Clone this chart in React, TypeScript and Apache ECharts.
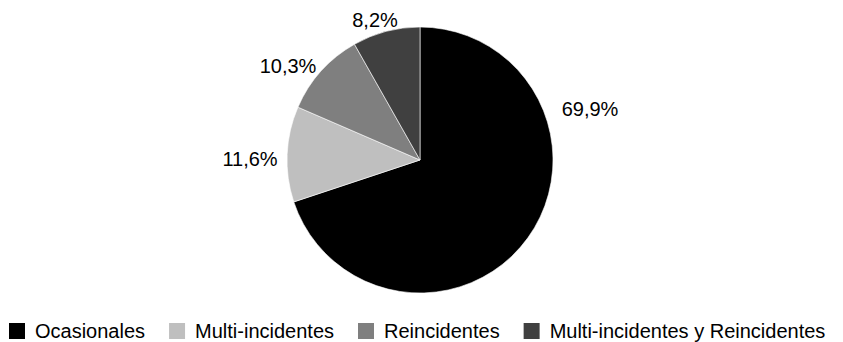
import React, { useEffect, useRef } from "react";
import * as echarts from "echarts";

const categories = [
  "Ocasionales",
  "Multi-incidentes",
  "Reincidentes",
  "Multi-incidentes y Reincidentes",
];
const values = [69.9, 11.6, 10.3, 8.2];
const colors = ["#000000", "#bfbfbf", "#7f7f7f", "#404040"];
// label anchor points (Excel-style best-fit placement)
const labelPos: [number, number][] = [
  [590, 109],
  [250, 159],
  [288, 66],
  [375, 20],
];

export default function App() {
  const ref = useRef<HTMLDivElement>(null);
  useEffect(() => {
    if (!ref.current) return;
    const chart = echarts.init(ref.current, undefined, { renderer: "svg" });
    chart.setOption({
      animation: false,
      backgroundColor: "#ffffff",
      textStyle: { fontFamily: "Liberation Sans, Arial, sans-serif" },
      legend: {
        data: categories,
        left: 2,
        top: 316,
        itemWidth: 18,
        itemHeight: 18,
        itemGap: 22,
        icon: "rect",
        textStyle: {
          fontSize: 20,
          color: "#000",
          padding: [0, 0, 0, 4],
          fontFamily: "Liberation Sans, Arial, sans-serif",
        },
      },
      series: [
        {
          type: "pie",
          center: [420, 160],
          radius: [0, 133],
          startAngle: 90,
          clockwise: true,
          avoidLabelOverlap: false,
          itemStyle: { borderColor: "#ffffff", borderWidth: 0.6 },
          label: {
            show: true,
            position: "outside",
            fontSize: 20,
            color: "#000",
            fontFamily: "Liberation Sans, Arial, sans-serif",
            formatter: (p: any) => p.value.toFixed(1).replace(".", ",") + "%",
          },
          labelLine: { show: false },
          labelLayout: (params: any) => {
            const pos = labelPos[params.dataIndex];
            return { x: pos[0], y: pos[1], align: "center", verticalAlign: "middle" };
          },
          emphasis: { disabled: true },
          data: categories.map((name, i) => ({
            name,
            value: values[i],
            itemStyle: { color: colors[i] },
          })),
        },
      ],
    });
    return () => chart.dispose();
  }, []);
  return (
    <div
      ref={ref}
      style={{ position: "absolute", left: 0, top: 0, width: 843, height: 342, background: "#fff" }}
    />
  );
}
